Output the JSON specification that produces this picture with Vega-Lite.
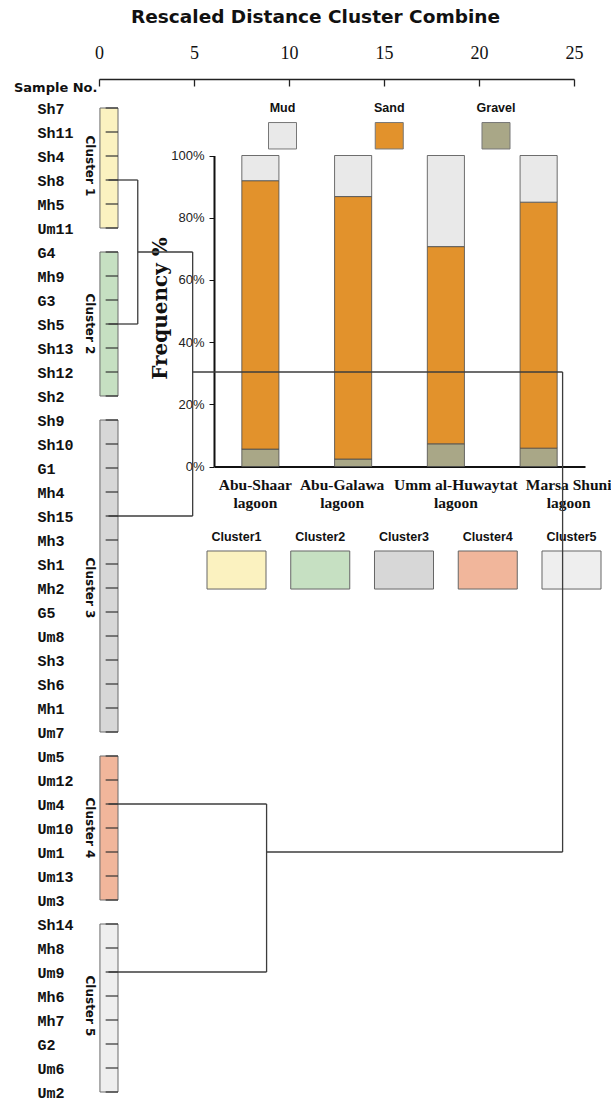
{
  "$schema": "https://vega.github.io/schema/vega-lite/v6.json",
  "width": 611,
  "height": 1103,
  "autosize": {"type": "none"},
  "padding": 0,
  "background": "white",
  "config": {"view": {"stroke": null}, "axis": {"grid": false}},
  "datasets": {
    "samples": [
      {"sample": "Sh7", "cluster": "Cluster 1"}, {"sample": "Sh11", "cluster": "Cluster 1"}, {"sample": "Sh4", "cluster": "Cluster 1"},
      {"sample": "Sh8", "cluster": "Cluster 1"}, {"sample": "Mh5", "cluster": "Cluster 1"}, {"sample": "Um11", "cluster": "Cluster 1"},
      {"sample": "G4", "cluster": "Cluster 2"}, {"sample": "Mh9", "cluster": "Cluster 2"}, {"sample": "G3", "cluster": "Cluster 2"},
      {"sample": "Sh5", "cluster": "Cluster 2"}, {"sample": "Sh13", "cluster": "Cluster 2"}, {"sample": "Sh12", "cluster": "Cluster 2"},
      {"sample": "Sh2", "cluster": "Cluster 2"},
      {"sample": "Sh9", "cluster": "Cluster 3"}, {"sample": "Sh10", "cluster": "Cluster 3"}, {"sample": "G1", "cluster": "Cluster 3"},
      {"sample": "Mh4", "cluster": "Cluster 3"}, {"sample": "Sh15", "cluster": "Cluster 3"}, {"sample": "Mh3", "cluster": "Cluster 3"},
      {"sample": "Sh1", "cluster": "Cluster 3"}, {"sample": "Mh2", "cluster": "Cluster 3"}, {"sample": "G5", "cluster": "Cluster 3"},
      {"sample": "Um8", "cluster": "Cluster 3"}, {"sample": "Sh3", "cluster": "Cluster 3"}, {"sample": "Sh6", "cluster": "Cluster 3"},
      {"sample": "Mh1", "cluster": "Cluster 3"}, {"sample": "Um7", "cluster": "Cluster 3"},
      {"sample": "Um5", "cluster": "Cluster 4"}, {"sample": "Um12", "cluster": "Cluster 4"}, {"sample": "Um4", "cluster": "Cluster 4"},
      {"sample": "Um10", "cluster": "Cluster 4"}, {"sample": "Um1", "cluster": "Cluster 4"}, {"sample": "Um13", "cluster": "Cluster 4"},
      {"sample": "Um3", "cluster": "Cluster 4"},
      {"sample": "Sh14", "cluster": "Cluster 5"}, {"sample": "Mh8", "cluster": "Cluster 5"}, {"sample": "Um9", "cluster": "Cluster 5"},
      {"sample": "Mh6", "cluster": "Cluster 5"}, {"sample": "Mh7", "cluster": "Cluster 5"}, {"sample": "G2", "cluster": "Cluster 5"},
      {"sample": "Um6", "cluster": "Cluster 5"}, {"sample": "Um2", "cluster": "Cluster 5"}
    ],
    "clusters": [
      {"cluster": "Cluster 1", "legend": "Cluster1", "first": "Sh7", "last": "Um11", "anchor": "Sh4", "centre": "between"},
      {"cluster": "Cluster 2", "legend": "Cluster2", "first": "G4", "last": "Sh2", "anchor": "Sh5", "centre": "on"},
      {"cluster": "Cluster 3", "legend": "Cluster3", "first": "Sh9", "last": "Um7", "anchor": "Mh2", "centre": "on"},
      {"cluster": "Cluster 4", "legend": "Cluster4", "first": "Um5", "last": "Um3", "anchor": "Um10", "centre": "on"},
      {"cluster": "Cluster 5", "legend": "Cluster5", "first": "Sh14", "last": "Um2", "anchor": "Mh6", "centre": "between"}
    ],
    "links": [
      {"d1": 0.5, "d2": 2.04, "s1": "Sh8", "s2": "Sh8"},
      {"d1": 0.5, "d2": 2.04, "s1": "Sh5", "s2": "Sh5"},
      {"d1": 2.04, "d2": 2.04, "s1": "Sh8", "s2": "Sh5"},
      {"d1": 2.04, "d2": 4.93, "s1": "G4", "s2": "G4"},
      {"d1": 0.5, "d2": 4.93, "s1": "Sh15", "s2": "Sh15"},
      {"d1": 4.93, "d2": 4.93, "s1": "G4", "s2": "Sh15"},
      {"d1": 4.93, "d2": 24.4, "s1": "Sh12", "s2": "Sh12"},
      {"d1": 0.5, "d2": 8.82, "s1": "Um4", "s2": "Um4"},
      {"d1": 0.5, "d2": 8.82, "s1": "Um9", "s2": "Um9"},
      {"d1": 8.82, "d2": 8.82, "s1": "Um4", "s2": "Um9"},
      {"d1": 8.82, "d2": 24.4, "s1": "Um1", "s2": "Um1"},
      {"d1": 24.4, "d2": 24.4, "s1": "Sh12", "s2": "Um1"}
    ],
    "sediment": [
      {"location": "Abu-Shaar lagoon", "class": "Gravel", "rank": 1, "share": 0.056},
      {"location": "Abu-Shaar lagoon", "class": "Sand", "rank": 2, "share": 0.863},
      {"location": "Abu-Shaar lagoon", "class": "Mud", "rank": 3, "share": 0.081},
      {"location": "Abu-Galawa lagoon", "class": "Gravel", "rank": 1, "share": 0.024},
      {"location": "Abu-Galawa lagoon", "class": "Sand", "rank": 2, "share": 0.844},
      {"location": "Abu-Galawa lagoon", "class": "Mud", "rank": 3, "share": 0.132},
      {"location": "Umm al-Huwaytat lagoon", "class": "Gravel", "rank": 1, "share": 0.073},
      {"location": "Umm al-Huwaytat lagoon", "class": "Sand", "rank": 2, "share": 0.634},
      {"location": "Umm al-Huwaytat lagoon", "class": "Mud", "rank": 3, "share": 0.293},
      {"location": "Marsa Shuni lagoon", "class": "Gravel", "rank": 1, "share": 0.059},
      {"location": "Marsa Shuni lagoon", "class": "Sand", "rank": 2, "share": 0.791},
      {"location": "Marsa Shuni lagoon", "class": "Mud", "rank": 3, "share": 0.150}
    ],
    "classes": [{"class": "Mud"}, {"class": "Sand"}, {"class": "Gravel"}]
  },
  "layer": [
    {
      "layer": [
        {
          "data": {"name": "sediment"},
          "mark": {"type": "bar", "stroke": "#4a4a4a", "strokeWidth": 0.8},
          "encoding": {
            "x": {
              "field": "location", "type": "nominal", "sort": null,
              "scale": {"type": "band", "range": [214, 585], "paddingInner": 0.6, "paddingOuter": 0.3},
              "axis": {
                "orient": "bottom", "offset": -636.5, "title": null, "ticks": false,
                "domainColor": "#111", "domainWidth": 2, "labelPadding": 11, "labelAngle": 0,
                "labelFont": "Liberation Serif", "labelFontWeight": "bold", "labelFontSize": 15.5,
                "labelColor": "#111", "labelLineHeight": 18, "labelLimit": 0,
                "labelExpr": "[replace(datum.label, ' lagoon', ''), 'lagoon']",
                "labelOffset": {
                  "condition": [
                    {"test": "datum.value == 'Abu-Shaar lagoon'", "value": -5},
                    {"test": "datum.value == 'Abu-Galawa lagoon'", "value": -11},
                    {"test": "datum.value == 'Umm al-Huwaytat lagoon'", "value": 10}
                  ],
                  "value": 30
                }
              }
            },
            "y": {
              "field": "share", "type": "quantitative", "stack": "zero",
              "scale": {"domain": [0, 1], "range": [466.5, 155.5], "nice": false},
              "axis": {
                "orient": "left", "offset": -214, "values": [0, 0.2, 0.4, 0.6, 0.8, 1], "format": ".0%",
                "domainColor": "#111", "domainWidth": 2, "tickColor": "#111", "tickSize": 5,
                "labelPadding": 5, "labelFont": "Liberation Sans", "labelFontSize": 13, "labelColor": "#222",
                "title": "Frequency %", "titleFont": "DejaVu Serif", "titleFontSize": 20, "titleFontWeight": "bold",
                "titleAngle": -90, "titleX": -54, "titleY": 308, "titleAlign": "center", "titleBaseline": "middle",
                "titleColor": "#111"
              }
            },
            "color": {
              "field": "class", "type": "nominal", "legend": null,
              "scale": {"domain": ["Mud", "Sand", "Gravel"], "range": ["#e9e9e9", "#e2922c", "#a9a787"]}
            },
            "order": {"field": "rank", "type": "quantitative", "sort": "ascending"}
          }
        },
        {
          "data": {"name": "classes"},
          "layer": [
            {
              "mark": {"type": "rect", "stroke": "#777", "strokeWidth": 1},
              "encoding": {
                "x": {
                  "field": "class", "type": "nominal", "sort": null, "axis": null,
                  "scale": {"type": "band", "domain": ["Mud", "Sand", "Gravel"], "range": [268.5, 510], "paddingInner": 0.7377, "paddingOuter": 0}
                },
                "y": {"datum": 1.106, "type": "quantitative"},
                "y2": {"datum": 1.021},
                "color": {
                  "field": "class", "type": "nominal", "legend": null,
                  "scale": {"domain": ["Mud", "Sand", "Gravel"], "range": ["#e9e9e9", "#e2922c", "#a9a787"]}
                }
              }
            },
            {
              "mark": {"type": "text", "font": "Liberation Sans", "fontWeight": "bold", "fontSize": 12.5, "color": "#111", "baseline": "middle"},
              "encoding": {
                "x": {"field": "class", "type": "nominal", "sort": null, "axis": null},
                "y": {"datum": 1.152, "type": "quantitative"},
                "text": {"field": "class"}
              }
            }
          ]
        },
        {
          "data": {"name": "clusters"},
          "layer": [
            {
              "mark": {"type": "rect", "stroke": "#666", "strokeWidth": 1},
              "encoding": {
                "x": {
                  "field": "legend", "type": "nominal", "sort": null, "axis": null,
                  "scale": {"type": "band", "range": [207, 601], "paddingInner": 0.2955, "paddingOuter": 0}
                },
                "y": {"datum": -0.2717, "type": "quantitative"},
                "y2": {"datum": -0.394},
                "color": {
                  "field": "cluster", "type": "nominal", "legend": null,
                  "scale": {"domain": ["Cluster 1", "Cluster 2", "Cluster 3", "Cluster 4", "Cluster 5"], "range": ["#fbf2c0", "#c6e0c2", "#d7d7d7", "#f1b69b", "#eeeeee"]}
                }
              }
            },
            {
              "mark": {"type": "text", "font": "Liberation Sans", "fontWeight": "bold", "fontSize": 12.5, "color": "#111", "baseline": "middle"},
              "encoding": {
                "x": {"field": "legend", "type": "nominal", "sort": null, "axis": null},
                "y": {"datum": -0.2267, "type": "quantitative"},
                "text": {"field": "legend"}
              }
            }
          ]
        }
      ],
      "resolve": {"scale": {"x": "independent", "color": "independent"}}
    },
    {
      "layer": [
        {
          "data": {"name": "clusters"},
          "mark": {"type": "rect", "stroke": "#6a6a6a", "strokeWidth": 1},
          "encoding": {
            "x": {
              "datum": 0.05, "type": "quantitative",
              "scale": {"domain": [0, 25], "range": [99, 574], "nice": false, "zero": false},
              "axis": {
                "orient": "bottom", "offset": -1024, "values": [0, 5, 10, 15, 20, 25],
                "domainColor": "#222", "domainWidth": 1.5, "tickColor": "#222", "tickWidth": 1.3, "tickSize": 7,
                "labelPadding": -33, "labelBaseline": "middle", "labelFlush": false,
                "labelFont": "Liberation Serif", "labelFontSize": 18, "labelColor": "#111",
                "title": "Rescaled Distance Cluster Combine", "titleFont": "DejaVu Sans", "titleFontSize": 18.5,
                "titleFontWeight": "bold", "titleX": 315, "titleY": -63, "titleAlign": "center",
                "titleBaseline": "middle", "titleColor": "#111"
              }
            },
            "x2": {"datum": 1.0},
            "y": {
              "field": "first", "type": "nominal",
              "scale": {
                "type": "point", "padding": 0, "range": [108, 1092],
                "domain": ["Sh7", "Sh11", "Sh4", "Sh8", "Mh5", "Um11", "G4", "Mh9", "G3", "Sh5", "Sh13", "Sh12", "Sh2", "Sh9", "Sh10", "G1", "Mh4", "Sh15", "Mh3", "Sh1", "Mh2", "G5", "Um8", "Sh3", "Sh6", "Mh1", "Um7", "Um5", "Um12", "Um4", "Um10", "Um1", "Um13", "Um3", "Sh14", "Mh8", "Um9", "Mh6", "Mh7", "G2", "Um6", "Um2"]
              },
              "axis": {
                "orient": "left", "offset": -37, "domain": false, "ticks": false, "labelAlign": "left",
                "labelPadding": 0, "labelBaseline": "middle", "labelFont": "Liberation Mono", "labelFontWeight": "bold",
                "labelFontSize": 15, "labelColor": "#111", "labelOverlap": false, "labelLimit": 0,
                "title": "Sample No.", "titleAngle": 0, "titleX": 60, "titleY": 87, "titleAlign": "right",
                "titleBaseline": "middle", "titleFont": "DejaVu Sans", "titleFontSize": 13, "titleFontWeight": "bold",
                "titleColor": "#111"
              }
            },
            "y2": {"field": "last"},
            "color": {
              "field": "cluster", "type": "nominal", "legend": null,
              "scale": {"domain": ["Cluster 1", "Cluster 2", "Cluster 3", "Cluster 4", "Cluster 5"], "range": ["#fbf2c0", "#c6e0c2", "#d7d7d7", "#f1b69b", "#eeeeee"]}
            }
          }
        },
        {
          "data": {"name": "samples"},
          "mark": {"type": "rule", "stroke": "#333", "strokeWidth": 1.2},
          "encoding": {
            "x": {"datum": 0.35, "type": "quantitative"},
            "x2": {"datum": 1.0},
            "y": {"field": "sample", "type": "nominal"}
          }
        },
        {
          "data": {"name": "links"},
          "mark": {"type": "rule", "stroke": "#3c3c3c", "strokeWidth": 1.3},
          "encoding": {
            "x": {"field": "d1", "type": "quantitative"},
            "x2": {"field": "d2"},
            "y": {"field": "s1", "type": "nominal"},
            "y2": {"field": "s2"}
          }
        },
        {
          "data": {"name": "clusters"},
          "transform": [{"filter": "datum.centre == 'on'"}],
          "mark": {"type": "text", "angle": 90, "align": "center", "baseline": "middle", "font": "DejaVu Sans", "fontWeight": "bold", "fontSize": 12, "color": "#111"},
          "encoding": {
            "x": {"datum": -0.47, "type": "quantitative"},
            "y": {"field": "anchor", "type": "nominal"},
            "text": {"field": "cluster"}
          }
        },
        {
          "data": {"name": "clusters"},
          "transform": [{"filter": "datum.centre == 'between'"}],
          "mark": {"type": "text", "angle": 90, "align": "center", "baseline": "middle", "dx": 10, "font": "DejaVu Sans", "fontWeight": "bold", "fontSize": 12, "color": "#111"},
          "encoding": {
            "x": {"datum": -0.47, "type": "quantitative"},
            "y": {"field": "anchor", "type": "nominal"},
            "text": {"field": "cluster"}
          }
        }
      ]
    }
  ],
  "resolve": {"scale": {"x": "independent", "y": "independent", "color": "independent"}}
}
